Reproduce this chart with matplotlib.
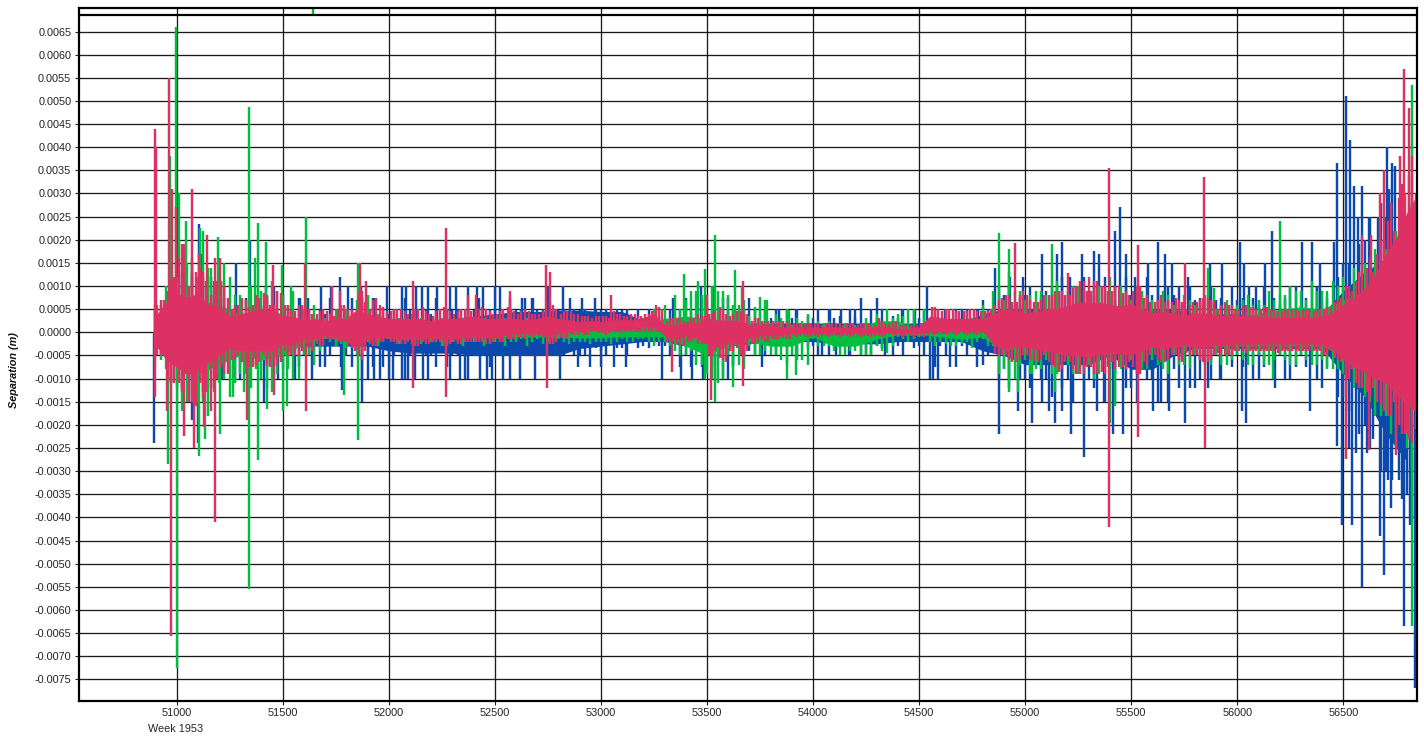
import matplotlib
matplotlib.use("Agg")
import matplotlib.pyplot as plt
import numpy as np

plt.rcParams["font.family"] = ["Liberation Sans", "DejaVu Sans"]

# all separations below are in units of 0.0001 m
UNIT = 1e-4

# ── dense bands ──────────────────────────────────────────────────────────────
fine_weeks = list(range(50900, 56900, 50))
coarse_weeks = list(range(50900, 56900, 100))

red_core_hi = [3.5, 6.5, 8.5, 7.5, 8.5, 6, 5.5, 3.5, 4, 4.5, 5, 5, 3.5, 3.5, 2.5, 3, 2.5, 3, 3, 5,
               4, 3.5, 3, 3, 3, 3, 2.5, 3, 3, 3, 3.5, 3, 3, 3, 3, 2.7, 3, 3.5, 3, 2.7,
               2.3, 2.5, 2.3, 2.7, 2.7, 2.7, 3.2, 4, 1.7, 1.7, 2, 2, 2.5, 2.7, 2.5, 2.5, 1.7, 1.7, 1.7, 1.2,
               1.2, 1.2, 1.2, 1, 1.2, 1, 1.2, 0.8, 1.2, 1.2, 0.8, 0.8, 1.2, 3.5, 3.2, 3, 3, 3, 3, 4,
               5, 4.7, 4.2, 4.5, 5, 5.2, 5.7, 6.5, 6.5, 6.5, 6, 5.7, 6.2, 5, 4.2, 4.5, 4.2, 3.7, 4.2, 4.2,
               3.7, 3.7, 3.7, 3.5, 3.5, 3.2, 3.2, 3.2, 3.2, 3.2, 3.5, 4.2, 6, 7.5, 9.5, 12.5, 17, 20.5, 26, 30]
red_core_lo = [-2.5, -6, -7.5, -9, -8.5, -6.5, -5, -3.5, -4, -4, -4, -4, -2.7, -2.7, -1.5, -1.5, -0.7, -1.2, -2, -3.2,
               -1.5, -1.2, -1.2, -1.5, -1.5, -1.5, -1.2, -1.5, -1.5, -1.2, -1.2, -1.2, -1.2, -0.7, -0.2, -0.2, -0.2, -1, -0.2, 0.1,
               0.2, 0.5, 0.2, 0.5, 0.7, 0.7, 1.2, 1.2, -0.7, -1.5, -0.7, -1.2, -2.5, -3.2, -2.2, -2.5, -1.2, -0.7, -0.7, -0.7,
               -0.2, -0.2, -0.2, -0.2, -0.2, -0.2, -0.2, -0.2, -0.2, 0, -0.2, -0.2, -0.2, 0.2, 0.2, 0.2, 0.2, 0.2, 0.2, -2.7,
               -3.7, -3.2, -3.2, -3.7, -4, -4.5, -5, -5.2, -5.2, -5, -4.5, -4.7, -5, -4, -3.2, -3.5, -3.2, -2.7, -3.2, -3.2,
               -2.7, -2.7, -2.5, -2.5, -2.5, -2.5, -2.5, -2.5, -2.5, -2.5, -2.7, -3.7, -6, -7.5, -8.5, -10, -11, -13.5, -15.5, -17.5]
red_hi = [7, 11, 19, 13, 13, 11, 10, 6, 7, 8, 8, 9, 6, 6, 5, 4.5, 4, 6, 5, 9,
          7, 5.5, 5, 4.5, 5, 4.5, 4.5, 5, 4.5, 5, 5, 4.5, 4.5, 5, 4.5, 4, 4.5, 6, 4.5, 4,
          3.5, 3.5, 3.5, 4, 3.5, 3.5, 4, 5.5, 3, 3, 3, 3.5, 4, 5, 4, 4, 3, 2.5, 2.5, 2.5,
          2, 2, 2, 2, 2, 2, 2, 1.5, 2.5, 2.5, 1.5, 1.5, 2, 5.5, 5, 4.5, 4.5, 4.5, 4.5, 7,
          8, 8, 7, 7, 8, 9, 9.5, 11, 11, 10, 10, 9, 10, 8, 7, 7, 7, 6, 7, 7,
          6, 6, 6, 5.5, 5.5, 5, 5, 5, 5, 5, 5.5, 7, 10, 13, 16, 20, 28, 32, 38, 42]
red_lo = [-5, -11, -13, -15, -14, -12, -9, -6, -7, -7, -7, -7, -5, -5, -3.5, -3, -1.5, -2, -3.5, -6,
          -3, -2, -2, -2.5, -3, -2.5, -2, -3, -2.5, -2, -2, -2.5, -2, -1.5, -1, -1, -1, -2.5, -1, -0.5,
          -0.5, 0, -0.5, 0, 0.5, 0.5, 1, 1, -2, -3, -2, -2.5, -5, -6, -4, -5, -2.5, -2, -1.5, -1.5,
          -1, -1, -1, -1, -1, -1, -1, -1, -1, -0.5, -1, -1, -1, -0.5, -0.5, -0.5, -0.5, -0.5, -0.5, -5,
          -6, -6, -6, -6, -7, -8, -8, -9, -9, -9, -8, -8, -9, -7, -6, -6, -6, -5, -6, -6,
          -5, -5, -4, -4, -4, -4, -4, -4, -4, -4, -5, -6, -10, -12, -14, -16, -18, -22, -24, -28]
red_a_hi = [6, 9, 16, 10, 14, 8, 11, 5, 7.5, 6, 8.5, 6, 6, 4.5, 5.5, 4, 4.5, 5, 5, 8.5,
            5, 6, 4.5, 5, 4, 5.5, 3.5, 5.5, 4, 5, 4.5, 5, 4, 5.5, 4, 4.5, 4, 6.5, 4, 4.5,
            3.5, 3, 3.5, 4.5, 3.5, 4, 4, 6, 2.5, 3, 2.5, 4, 4, 5.5, 3.5, 4.5, 2.5, 2.5, 2.5, 2.5,
            2, 2, 2, 2, 2, 2, 1.5, 2, 3, 2, 1.5, 1.5, 2, 5.5, 4.5, 5, 4.5, 5, 4.5, 6,
            8, 6.5, 8, 6.5, 8, 9, 8, 11, 9, 10, 9, 8.5, 9, 7.5, 6.5, 6.5, 7.5, 5, 6.5, 7.5,
            5, 6, 5, 5.5, 5, 5, 4.5, 5, 5, 4.5, 5, 6.5, 10, 11, 14, 17, 24, 29, 34, 38]
red_a_lo = [-5, -10, -11, -15, -11, -12, -7.5, -6, -6.5, -7.5, -5, -7.5, -4, -5, -2.5, -2.5, -1.5, -2, -3, -5,
            -2.5, -2, -2, -2.5, -2.5, -2, -2, -3, -2, -2, -2, -2.5, -1.5, -1.5, -1, -0.8, -0.8, -2.5, -1, -0.3,
            -0.2, 0.2, -0.2, 0.2, 0.5, 0.8, 0.8, 0.8, -2, -2.5, -2, -2.5, -5, -5.5, -4, -5, -2.5, -1.5, -1.5, -1.2,
            -0.8, -0.8, -0.8, -0.8, -0.8, -0.8, -0.8, -0.8, -0.8, -0.3, -0.8, -0.8, -0.8, -0.3, -0.3, -0.3, -0.3, -0.3, -0.3, -4.5,
            -5, -6.5, -5, -6.5, -6.5, -8.5, -6.5, -9, -7.5, -8.5, -6.5, -7.5, -7.5, -6.5, -5, -6.5, -5, -4.5, -5, -6.5,
            -4.5, -5, -4, -4, -4, -4, -4, -4, -4, -4, -5, -5.5, -10, -11, -13, -15, -18, -20, -23, -26]
red_b_hi = [7, 12, 11, 13, 11, 11, 7.5, 6, 5.5, 7.5, 6, 8.5, 5, 6, 4, 5, 3.5, 6, 4, 6.5,
            7.5, 4.5, 5, 4, 5, 4, 5, 4.5, 5, 4.5, 5.5, 4, 5, 4.5, 5, 4, 5, 5, 4.5, 4,
            3.5, 3.5, 3, 4, 4, 3.5, 4.5, 5, 3, 2.5, 3, 3.5, 4.5, 4, 4.5, 4, 3, 2.5, 2.5, 2,
            2, 2, 1.5, 2, 1.5, 2, 2, 1.5, 2, 2.5, 1.5, 1.5, 1.5, 5, 5, 4.5, 5, 4.5, 5, 7.5,
            6.5, 9, 6.5, 8, 9, 8, 10, 9, 11, 9, 10, 8, 10, 6.5, 8, 6.5, 6.5, 6.5, 7.5, 6.5,
            6.5, 5, 6, 5, 5.5, 4.5, 5, 4.5, 5, 5, 5.5, 7.5, 9, 13, 13, 20, 22, 30, 30, 40]
red_b_lo = [-4, -11, -9, -16, -13, -10, -9, -5, -7.5, -6.5, -7.5, -6.5, -5, -4, -4, -3, -1.5, -1.5, -4, -4,
            -3, -1.5, -2.5, -2, -3, -2.5, -2, -2.5, -2.5, -2, -2, -2, -2, -1.5, -1.5, -0.8, -0.8, -2, -1.5, -0.6,
            -0.6, -0.2, -0.2, -0.2, 0.3, 0.5, 0.8, 0.8, -1.5, -3, -1.5, -2.5, -4, -6.5, -3.5, -4, -2, -2, -1.5, -1.5,
            -0.8, -0.8, -0.8, -0.8, -0.8, -0.8, -0.8, -0.8, -0.8, -0.6, -0.8, -0.8, -0.8, -0.3, -0.3, -0.3, -0.3, -0.3, -0.3, -5,
            -6.5, -5, -6.5, -5, -7.5, -6.5, -9, -7.5, -9, -7.5, -7.5, -6.5, -9, -5, -6.5, -5, -6.5, -5, -6.5, -5,
            -5, -4, -4.5, -4, -4, -4.5, -4, -4, -4, -4, -4, -6.5, -8, -12, -12, -17, -15, -22, -21, -27]

blue_core_hi = [2, 5, 6, 4, 4, 4, 3, 2, 2, 3, 2, 2, 2.5, 2.5, 3, 3.5, 4, 4.5, 4.5, 4.8, 4.8, 4.5, 4.5, 2.5, 2.5, 2.5, 3, 2.5, 2, 2,
                2, 2, 2, 2, 2, 2, 2, 2, 2, 4, 5, 5, 5, 5, 5, 5, 5, 5, 5, 4, 4, 4, 3.5, 3.5, 3.5, 4, 9, 13, 16, 18]
blue_core_lo = [-2, -6, -8, -6, -4, -4, -3, -3, -3, -3, -3, -4, -4.5, -4.5, -4.5, -5, -5, -5, -5, -5, -3.5, -3, -2.5, -2, -2, -3, -3.5, -3, -2.5, -2,
                -2, -2, -2.5, -2.5, -2.5, -2, -2, -2, -2, -4, -5, -7, -7, -7, -7, -5, -8, -8, -5, -3.5, -3.5, -3.5, -3.5, -3.5, -3.5, -3.5, -9, -14, -22, -28]
blue_hi = [5, 9, 10, 7, 6, 6, 5, 4, 4, 5, 4, 4, 4.8, 4, 4.8, 4.8, 4.8, 4.8, 4.8, 4.8, 4.8, 4.8, 4.8, 3, 3, 3, 4, 3, 3, 3,
           3, 3, 3, 3, 3, 3, 3, 3, 3, 7, 8, 8, 9, 9, 9, 9, 8, 8, 8, 7, 7, 7, 6, 6, 6, 7, 15, 20, 25, 25]
blue_lo = [-5, -10, -13, -9, -6, -6, -5, -5, -5, -5, -5, -5, -5, -5, -5, -5, -5, -5, -5, -5, -5, -4, -3.5, -3, -3, -5, -5, -5, -4, -3,
           -3, -3, -3, -3, -3, -3, -3, -3, -3, -7, -8, -10, -10, -10, -10, -8, -10, -10, -8, -5, -5, -5, -5, -5, -5, -5, -14, -20, -30, -35]
blue_comb_hi = [5, 10, 13, 12, 10, 8, 7.5, 5, 7.5, 5, 7.5, 5, 5, 7.5, 5, 5, 7.5, 5, 7.5, 7.5,
                7.5, 5, 5, 7.5, 5, 5, 7.5, 5, 5, 5, 7.5, 5, 5, 5, 5, 7.5, 5, 5, 5, 5,
                5, 5, 5, 5, 5, 5, 5, 3.5, 5, 5, 5, 7.5, 5, 7.5, 5, 5, 5, 5, 5, 5,
                5, 3.5, 5, 5, 3.5, 5, 7.5, 5, 5, 3.5, 5, 5, 5, 5, 5, 5, 5, 5, 5, 10,
                10, 7.5, 10, 7.5, 10, 12, 10, 12, 10, 12, 10, 12, 10, 12, 10, 10, 10, 10, 7.5, 10,
                7.5, 10, 7.5, 7.5, 10, 7.5, 7.5, 10, 7.5, 10, 7.5, 12, 15, 19, 25, 28, 25, 31, 28, 28]
blue_comb_lo = [-5, -10, -12, -10, -10, -7.5, -7.5, -10, -7.5, -5, -7.5, -5, -5, -7.5, -5, -7.5, -5, -7.5, -7.5, -10,
                -7.5, -7.5, -5, -10, -5, -5, -7.5, -7.5, -5, -5, -5, -7.5, -5, -5, -5, -5, -5, -5, -5, -5,
                -5, -3.5, -5, -3.5, -5, -3.5, -3.5, -3, -5, -7.5, -7.5, -7.5, -7.5, -10, -7.5, -5, -5, -5, -5, -3.5,
                -5, -3.5, -5, -5, -3.5, -5, -5, -5, -3.5, -5, -5, -3.5, -5, -7.5, -5, -7.5, -5, -5, -5, -10,
                -12, -10, -12, -10, -14, -12, -15, -15, -12, -15, -15, -12, -15, -10, -15, -15, -12, -12, -10, -10,
                -10, -7.5, -7.5, -10, -7.5, -7.5, -10, -7.5, -7.5, -10, -7.5, -14, -17, -22, -25, -30, -38, -36, -40, -40]

green_core_hi = [3, 7, 7, 6, 4, 5, 4, 2, 1.5, 2, 1, 1, 1, 1, 1, 1, 1, 1, 0.5, 0.3, 0.5, 0.5, 0.5, 1, 3, 3.5, 3, 2.5, 2, 1,
                 0.5, 0, -0.5, 0.5, 2.5, 2.5, 0, 0, 0.5, 3, 4, 4, 4, 4, 4, 4, 3.5, 3.5, 3, 3, 3, 3.5, 4, 5, 5.5, 5, 7, 9, 12, 15]
green_core_lo = [-3, -7, -9, -7, -5, -6, -5, -2.5, -1, -2, -1, -1, -1, -1, -1, -1, -1, -1, -1, -1, -1.2, -1.2, -1, -1, -1, -3, -5, -3, -2, -3,
                 -3, -1, -3, -3, -1.5, -0.5, -0.5, -1, -1.5, -1, -4, -3, -3, -4, -4, -3, -3, -3, -3, -3, -3, -3, -3, -3, -3, -3, -5, -8, -10, -15]
green_hi = [6, 12, 12, 10, 8, 9, 8, 5, 3, 5, 3, 2, 2, 2, 2, 2, 2, 2, 1, 1, 1, 1, 1, 3, 6, 7, 7, 4.5, 3.5, 2,
            1.5, 1, 0, 1.5, 4, 4, 1, 1, 1.5, 6, 7, 7, 8, 8, 8, 8, 7, 7, 6, 6, 5, 6, 7, 8, 9, 9, 12, 15, 18, 25]
green_lo = [-6, -12, -15, -11, -9, -10, -8, -5, -1.5, -3.5, -2, -1.5, -1.5, -2, -2, -2, -2, -2, -1.5, -1.5, -2, -2, -1.5, -1.5, -2, -5, -9, -5, -3, -5,
            -5, -1.5, -4, -4, -3, -1, -1, -2, -2.5, -1.5, -8, -6, -6, -7, -7, -6, -6, -6, -5, -5, -5, -5, -5, -5, -5, -6, -9, -14, -18, -25]
green_tip_hi = [10, 15, 14, 12, 10, 11, 9, 6, 5, 7, 4, 3, 3, 3, 3, 3, 3, 3, 2, 2, 2, 2, 2, 5, 8, 9, 9, 6, 5, 3,
                2.5, 2, 2, 3, 5, 5, 2.5, 2, 3, 9, 9, 9, 10, 10, 10, 10, 9, 9, 8, 8, 7, 8, 9, 10, 11, 11, 14, 18, 22, 30]
green_tip_lo = [-8, -15, -18, -14, -12, -13, -10, -7, -3, -5, -3, -2.5, -2.5, -3, -3, -3, -3, -3, -2, -2.5, -2.5, -2.5, -2, -3, -4, -7, -11, -7, -5, -6,
                -6, -3, -5, -5, -4.5, -2, -2, -3, -3.5, -3, -10, -8, -9, -9, -9, -8, -8, -8, -7, -7, -7, -7, -7, -7, -7, -8, -12, -18, -25, -35]
green_comb_hi = [6, 14, 10, 15, 12, 9, 11, 8, 7, 6, 8, 9, 6, 5, 4, 3, 2, 3, 4, 7,
                 3, 2, 2, 3, 2, 2, 3, 2, 2, 2, 2, 2, 2, 2, 1.5, 1.5, 1.5, 1.5, 1.5, 1,
                 1, 1, 1, 1.5, 1, 1, 1, 1.5, 3, 5, 9, 8, 10, 9, 6, 7, 5.5, 7, 4, 5,
                 3, 4, 2.5, 2.5, 1, 1.5, 0.5, 1, 2, 3, 3.5, 5, 5, 3, 1.5, 1, 1, 1.5, 1.5, 4,
                 13, 9, 8, 9, 7, 8, 10, 9, 8, 9, 7, 8, 9, 8, 7, 8, 6, 7, 6, 7,
                 6, 5, 7, 6, 6, 7, 8, 9, 7, 9, 9, 10, 10, 11, 12, 13, 16, 20, 22, 35]
green_comb_lo = [-6, -11, -17, -14, -15, -13, -10, -11, -9, -8, -12, -9, -8, -10, -5, -4, -2, -2.5, -3, -6,
                 -3, -2, -2, -2.5, -2.5, -2, -2, -2.5, -2, -2, -2, -2.5, -2, -2, -1.5, -2, -2.5, -2, -2, -2,
                 -2, -2, -2, -2, -2, -1.5, -2, -2, -3, -5, -4, -7, -10, -10, -7, -8, -5, -4, -5, -7,
                 -6, -7, -3, -3, -5, -4, -5, -5, -4, -3, -1.5, -1.5, -1, -3, -2.5, -3, -2, -2, -3, -2,
                 -10, -7, -9, -8, -9, -7, -9, -8, -10, -7, -9, -8, -9, -8, -7, -9, -7, -8, -6, -7,
                 -7, -6, -6, -7, -7, -6, -6, -7, -6, -7, -8, -8, -10, -12, -15, -18, -22, -20, -30, -40]

# ── individual spikes ────────────────────────────────────────────────────────
blue_up_weeks = [51105, 51120, 51160, 51200, 51280, 51345, 51420, 51460, 51500, 51580, 51620, 51680, 51730, 51772, 51810, 51870, 51930, 51990,
                 52061, 52081, 52128, 52155, 52187, 52226, 52289, 52317, 52375, 52414, 52446, 52501, 52524, 52572, 52626, 52642, 52681,
                 52752, 52823, 52854, 52909, 52972, 53340, 53400, 53470, 53530, 53600, 53700, 53840, 53920, 54080, 54130, 54200, 54300, 54420, 54480, 54536,
                 54620, 54700, 54780, 54858, 54928, 54990, 55078, 55148, 55172, 55210, 55266, 55325, 55350, 55423, 55447, 55475, 55520, 55580, 55628, 55660, 55690, 55769,
                 55870, 55930, 56013, 56030, 56055, 56090, 56130, 56164, 56250, 56305, 56351, 56374, 56389, 56455, 56472, 56511, 56530, 56551, 56567, 56587, 56622, 56663, 56705, 56715, 56729, 56743]
blue_up_vals = [23.5, 17, 12, 10, 15, 20, 10, 10, 8, 7.5, 7.5, 10, 10, 12, 10, 10, 7.5, 10,
                10, 10, 10, 10, 10, 10, 10, 10, 10, 10, 10, 10, 10, 7.5, 7.5, 7.5, 7.5,
                10, 10, 7.5, 7.5, 7.5, 7.5, 7.5, 10, 10, 7.5, 7.5, 5, 5, 5, 5, 5, 7.5, 5, 5, 10,
                5, 5, 5, 14, 12, 12, 17, 17, 19.6, 12, 17, 17.5, 17, 22, 27, 17, 12, 15, 19.6, 17, 15, 12,
                15, 15, 19.6, 15, 10, 10, 15, 22, 10, 19.6, 19.6, 10, 15, 19.6, 36.6, 51, 41.6, 31.6, 25, 31.6, 25, 25, 40, 31, 36.6, 36]
blue_dn_weeks = [50895, 51073, 51103, 51125, 51215, 51300, 51410, 51480, 51560, 51640, 51700, 51780, 51873, 51900, 51930, 51960, 52000, 52020,
                 52061, 52092, 52124, 52163, 52187, 52289, 52336, 52359, 52375, 52430, 52461, 52485, 52540, 52572, 52619, 52689, 52807, 52890, 52950, 53000, 53060, 53120, 53290,
                 53380, 53430, 53480, 53540, 53600, 53760, 54040, 54110, 54170, 54250, 54340, 54552, 54567, 54591, 54646, 54771,
                 54878, 54965, 55034, 55080, 55114, 55140, 55172, 55214, 55277, 55337, 55370, 55415, 55463, 55500, 55604, 55640, 55680, 55753, 55800, 55860, 55920,
                 56020, 56040, 56100, 56180, 56250, 56343, 56400, 56469, 56492, 56525, 56539, 56560, 56587, 56610, 56640, 56672, 56692, 56710, 56730, 56760, 56785, 56813, 56837]
blue_dn_vals = [-24, -19, -24, -13, -10, -10, -15, -10, -10, -10, -7.5, -12.5, -15, -10, -10, -10, -10, -10,
                -10, -10, -10, -10, -10, -10, -10, -10, -10, -10, -10, -10, -10, -10, -10, -10, -10, -7.5, -7.5, -7.5, -7.5, -7.5, -10,
                -10, -10, -10, -10, -10, -7.5, -5, -5, -5, -5, -5, -10, -10, -10, -7.5, -7.5,
                -22, -17, -19.5, -15, -17, -19.5, -17, -22, -27, -17, -15, -22, -22, -12, -17, -15, -17, -19.5, -12, -12, -10,
                -17, -19.6, -10, -12, -10, -17, -12, -24.5, -41.6, -25, -41.6, -26, -55, -26, -23, -44, -52.5, -32, -32, -32, -63.5, -41.6, -76.8]

green_up_weeks = [50970, 50995, 51010, 51045, 51075, 51110, 51125, 51160, 51197, 51222, 51340, 51370, 51385, 51420, 51498, 51540, 51610, 51857, 51900,
                  53391, 53456, 53490, 53538, 53600, 53632, 53663, 53750, 53781, 53888, 54878, 54925, 55128, 55150, 55400, 55863, 55890, 56201, 56824]
green_up_vals = [38, 66, 30, 24, 16, 22.5, 22, 14, 20.5, 15, 48.7, 16, 23.7, 19.5, 14.5, 10, 25, 15, 8,
                 12.7, 11, 13.6, 21, 8, 13.4, 10, 7.6, 7, 4.8, 21.5, 18, 19, 11, 12, 14, 9.5, 24, 53.4]
green_dn_weeks = [50960, 51000, 51090, 51107, 51135, 51205, 51267, 51320, 51342, 51385, 51425, 51500, 51520, 51790, 51853,
                  53490, 53538, 53624, 53875, 53922, 54878, 54925, 54965, 55034, 55140, 55400, 55423, 56170, 56824]
green_dn_vals = [-28.4, -72.5, -16, -26.7, -23, -22, -14, -13, -55.5, -27.7, -16.5, -17, -16, -13.5, -23.3,
                 -10, -15, -11.8, -10, -9.3, -9, -13, -13, -9, -13, -19.7, -16, -10, -63.5]

red_up_weeks = [50899, 50904, 50966, 50980, 50995, 51037, 51074, 51107, 51145, 51180, 51205, 51455, 51607, 51732, 51770, 51865, 51895,
                52113, 52270, 52374, 52410, 52572, 52742, 52760, 53047, 53500, 53671, 54952, 55200, 55300, 55397, 55532, 55754, 55843,
                56630, 56587, 56672, 56690, 56767, 56785, 56810]
red_up_vals = [44, 40, 55, 31, 27, 19, 31, 17, 21, 16, 16, 14.5, 15, 10, 9, 15, 11,
               11, 22.5, 8, 8, 9, 14.5, 13, 8, 8, 11, 19.3, 12.8, 12, 35.5, 18.8, 15, 33.5,
               21, 21, 30, 35, 38, 57, 48.5]
red_dn_weeks = [50897, 50955, 50972, 51035, 51082, 51130, 51160, 51180, 51330, 51460, 51612, 52113, 52270, 52745, 53334, 53520, 53670,
                55397, 55532, 55848, 56512, 56622, 56750, 56800]
red_dn_vals = [-14, -17, -65.6, -22.5, -25, -20.5, -17, -41, -19, -13.5, -17, -12, -14, -12, -8.5, -14.7, -11.5,
               -42, -22.7, -25, -27.4, -25.5, -26.5, -22]

# ── axes ticks ───────────────────────────────────────────────────────────────
week_ticks = list(range(51000, 57000, 500))
sep_ticks = list(range(-75, 70, 5))

BLUE, GREEN, RED = "#0b49ad", "#00bf40", "#de3163"
LW = 1.75

fig = plt.figure(figsize=(14.24, 7.38), dpi=100, facecolor="white")
ax = fig.add_axes([79 / 1424, 1 - 700.7 / 738, (1417 - 79) / 1424, (700.7 - 8) / 738])


def band(weeks, hi, lo, colour, z):
    ax.fill_between(weeks, np.array(lo) * UNIT, np.array(hi) * UNIT, color=colour, lw=0, zorder=z)


def spikes(weeks, vals, colour, z, shift=0):
    ax.vlines(np.array(weeks) + shift, 0, np.array(vals) * UNIT, color=colour, lw=LW, zorder=z)


band(coarse_weeks, blue_core_hi, blue_core_lo, BLUE, 3)
spikes(coarse_weeks, blue_hi, BLUE, 3)
spikes(coarse_weeks, blue_lo, BLUE, 3)
spikes(fine_weeks, blue_comb_hi, BLUE, 3, 25)
spikes(fine_weeks, blue_comb_lo, BLUE, 3, 25)
spikes(blue_up_weeks, blue_up_vals, BLUE, 3)
spikes(blue_dn_weeks, blue_dn_vals, BLUE, 3)

band(coarse_weeks, green_core_hi, green_core_lo, GREEN, 4)
spikes(coarse_weeks, green_hi, GREEN, 4)
spikes(coarse_weeks, green_lo, GREEN, 4)
spikes(coarse_weeks, green_tip_hi, GREEN, 4, 50)
spikes(coarse_weeks, green_tip_lo, GREEN, 4, 50)
spikes(fine_weeks, green_comb_hi, GREEN, 4, 25)
spikes(fine_weeks, green_comb_lo, GREEN, 4, 25)
spikes(green_up_weeks, green_up_vals, GREEN, 4)
spikes(green_dn_weeks, green_dn_vals, GREEN, 4)

band(fine_weeks, red_core_hi, red_core_lo, RED, 5)
spikes(fine_weeks, red_hi, RED, 5, 25)
spikes(fine_weeks, red_lo, RED, 5, 25)
spikes(fine_weeks, red_a_hi, RED, 5, 10)
spikes(fine_weeks, red_a_lo, RED, 5, 10)
spikes(fine_weeks, red_b_hi, RED, 5, 40)
spikes(fine_weeks, red_b_lo, RED, 5, 40)
spikes(red_up_weeks, red_up_vals, RED, 5)
spikes(red_dn_weeks, red_dn_vals, RED, 5)

# green spike leaving the scale, seen in the strip above the plot
ax.vlines(51643, 0.00686, 0.0071, color=GREEN, lw=LW, zorder=4)
ax.axhline(0.00686, color="black", lw=1.6, zorder=6)

ax.set_xlim(50540, 56847)
ax.set_ylim(-0.007962, 0.007009)
ax.set_xticks(week_ticks)
ax.set_yticks([v * UNIT for v in sep_ticks])
ax.set_yticklabels([f"{v * UNIT:.4f}" for v in sep_ticks])
ax.grid(True, color="#1c1c1c", lw=0.95, zorder=1)
ax.set_axisbelow(True)
ax.tick_params(labelsize=7.8, length=3, width=0.8, pad=2.5, colors="#222222")
for s in ax.spines.values():
    s.set_linewidth(1.6)
    s.set_color("black")
    s.set_zorder(7)

fig.text(14 / 1424, 1 - 370 / 738, "Separation (m)", rotation=90, ha="center", va="center",
         fontsize=7.8, fontweight="bold", fontstyle="italic", color="#111111")
fig.text(176 / 1424, 1 - 729 / 738, "Week 1953", ha="center", va="center",
         fontsize=7.8, color="#222222")

fig.savefig("out.png", dpi=100)
